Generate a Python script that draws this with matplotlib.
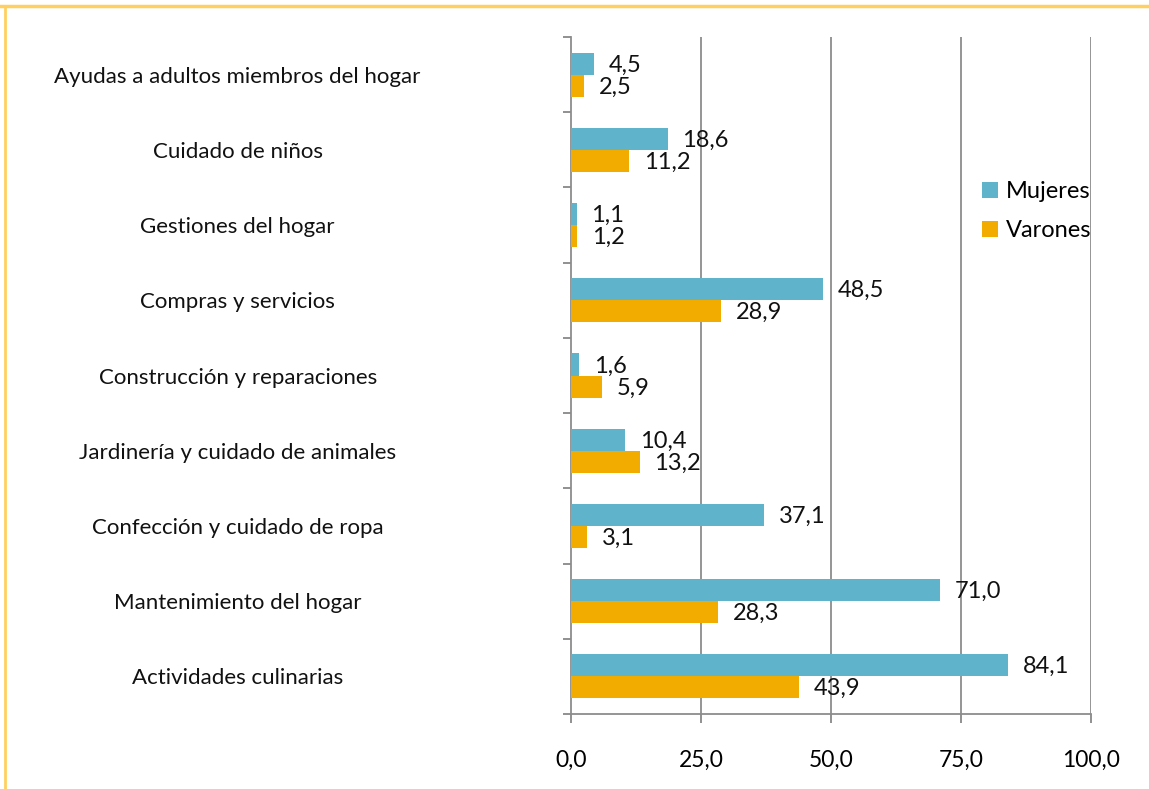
import matplotlib
matplotlib.use("Agg")
import matplotlib.pyplot as plt
import numpy as np

categories = ["Ayudas a adultos miembros del hogar", "Cuidado de niños", "Gestiones del hogar",
              "Compras y servicios", "Construcción y reparaciones",
              "Jardinería y cuidado de animales", "Confección y cuidado de ropa",
              "Mantenimiento del hogar", "Actividades culinarias"]
mujeres = [4.5, 18.6, 1.1, 48.5, 1.6, 10.4, 37.1, 71.0, 84.1]
varones = [2.5, 11.2, 1.2, 28.9, 5.9, 13.2, 3.1, 28.3, 43.9]
xticks = [0, 25, 50, 75, 100]
xtick_labels = ["0,0", "25,0", "50,0", "75,0", "100,0"]

plt.rcParams['font.family'] = ['Lato', 'DejaVu Sans']
c_m = "#5FB4CC"
c_v = "#F2AC00"

fig = plt.figure(figsize=(11.49, 7.89), dpi=100)
W, H = 1149, 789
ax = fig.add_axes([571/W, 1-714/H, (1091-571)/W, (714-37)/H])

n = len(categories)
y = np.arange(n)[::-1].astype(float)
bh = 0.293
ax.barh(y + bh/2, mujeres, height=bh, color=c_m, label="Mujeres", zorder=3)
ax.barh(y - bh/2, varones, height=bh, color=c_v, label="Varones", zorder=3)

for yi, m, v in zip(y, mujeres, varones):
    ax.annotate(f"{m:.1f}".replace(".", ","), (m, yi + bh/2), xytext=(10.5, -1), textcoords="offset points",
                va="center", ha="left", fontsize=17, color="#111111", zorder=4)
    ax.annotate(f"{v:.1f}".replace(".", ","), (v, yi - bh/2), xytext=(10.5, -1), textcoords="offset points",
                va="center", ha="left", fontsize=17, color="#111111", zorder=4)

ax.set_xlim(0, 100)
ax.set_ylim(-0.5, n - 0.5)
ax.set_xticks(xticks)
ax.set_xticklabels(xtick_labels, fontsize=16.5)
ax.set_yticks(y)
ax.set_yticklabels(categories, fontsize=16, color="#111111")
ax.set_yticks(np.arange(n + 1) - 0.5, minor=True)
ax.tick_params(axis='y', which='major', length=0, pad=240)
for lab in ax.get_yticklabels():
    lab.set_horizontalalignment('center')
ax.tick_params(axis='y', which='minor', length=5.5, color="#888888", direction='out', width=1.3)
ax.tick_params(axis='x', which='major', length=6.5, color="#888888", direction='out', pad=19, width=1.3)

for x in xticks[1:]:
    ax.axvline(x, color="#8C8C8C", lw=1.3, zorder=1)
for s in ['top', 'right']:
    ax.spines[s].set_visible(False)
ax.spines['left'].set_color("#8C8C8C")
ax.spines['bottom'].set_color("#8C8C8C")
ax.spines['left'].set_linewidth(1.3)
ax.spines['bottom'].set_linewidth(1.3)

leg = fig.legend(loc="upper left", bbox_to_anchor=(973/W, 1-172/H), frameon=False, fontsize=17,
                 handlelength=0.65, handleheight=0.65, handletextpad=0.35, labelspacing=0.75,
                 borderaxespad=0)

fig.add_artist(plt.Line2D([0, 1], [1-6/H, 1-6/H], color="#FFD060", lw=2.5, transform=fig.transFigure))
fig.add_artist(plt.Line2D([5/W, 5/W], [0, 1-6/H], color="#FFD060", lw=2, transform=fig.transFigure))

fig.savefig("out.png", dpi=100)
